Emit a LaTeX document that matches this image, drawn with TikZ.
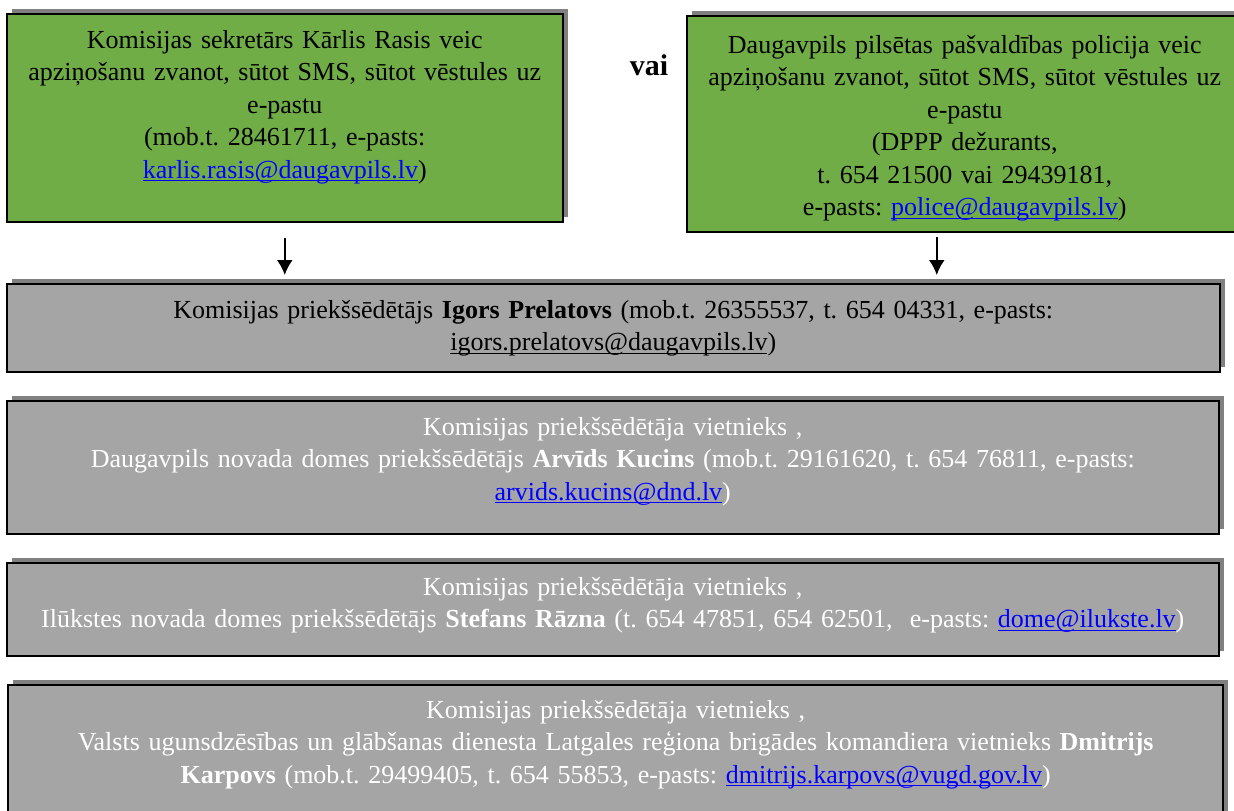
\documentclass[tikz,border=0pt]{standalone}
\usepackage{fontspec}
\setmainfont{Liberation Serif}
\usetikzlibrary{positioning}
\usetikzlibrary{shadows}
\usetikzlibrary{arrows.meta}
\definecolor{box-green}{HTML}{70AD47}
\definecolor{box-gray}{HTML}{A5A5A5}
\definecolor{box-shadow}{HTML}{808080}
\definecolor{mail-blue}{HTML}{0000FF}
\frenchspacing
\newcommand{\ulmail}[1]{\leavevmode\setbox0=\hbox{#1}\rlap{\rule[-1.6pt]{\wd0}{.6pt}}\box0}
\newcommand{\maillink}[1]{\textcolor{mail-blue}{\ulmail{#1}}}
\tikzset{
  panel/.style 2 args={
    draw=black, line width=1pt, fill=#1, text=#2,
    align=center, anchor=north west, inner sep=0pt,
    font=\fontsize{13}{16.25}\selectfont,
    text height=17pt,
    drop shadow={shadow xshift=2.5pt, shadow yshift=2.5pt, fill=box-shadow, opacity=1}},
}

\begin{document}
\begin{tikzpicture}[
  green/.style={panel={box-green}{black}, text width=278.25pt},
  chair/.style={panel={box-gray}{black}, text width=606.75pt},
  deputy/.style={panel={box-gray}{white}, text width=606.25pt},
  flow/.style={line width=1pt, -{Latex[length=7.5pt, width=8pt]}}
]
\useasboundingbox (0,0) rectangle (617pt,-405pt);

% Notification
\node[green, text depth=87pt] (sek) at (2.75pt,-6.5pt) {%
Komisijas sekretārs Kārlis Rasis veic\\
apziņošanu zvanot, sūtot SMS, sūtot vēstules uz\\
e-pastu\\
(mob.t. 28461711, e-pasts:\\
\maillink{karlis.rasis@daugavpils.lv})};
\node[font=\fontsize{15}{18}\selectfont\bfseries] (vai) at (324.5pt,-32.5pt) {vai};
\node[green, text height=18.5pt, text depth=89.5pt] (pol) at (342.75pt,-7.5pt) {%
Daugavpils pilsētas pašvaldības policija veic\\
apziņošanu zvanot, sūtot SMS, sūtot vēstules uz\\
e-pastu\\
(DPPP dežurants,\\
t. 654 21500 vai 29439181,\\
e-pasts: \maillink{police@daugavpils.lv})};

% Chairman
\node[chair, text depth=27pt] (pr) at (2.75pt,-141.5pt) {%
Komisijas priekšsēdētājs \textbf{Igors Prelatovs} (mob.t. 26355537, t. 654 04331, e-pasts:\\
\ulmail{igors.prelatovs@daugavpils.lv})};

% Deputies
\node[deputy, text depth=49.5pt, below=13.5pt of pr.south west, anchor=north west] (vk1) {%
Komisijas priekšsēdētāja vietnieks ,\\
Daugavpils novada domes priekšsēdētājs \textbf{Arvīds Kucins} (mob.t. 29161620, t. 654 76811, e-pasts:\\
\maillink{arvids.kucins@dnd.lv})};
\node[deputy, text height=16pt, text depth=30.5pt, below=13.5pt of vk1.south west, anchor=north west] (vk2) {%
Komisijas priekšsēdētāja vietnieks ,\\
Ilūkstes novada domes priekšsēdētājs \textbf{Stefans Rāzna} (t. 654 47851, 654 62501,\ \ e-pasts: \maillink{dome@ilukste.lv})};
\node[deputy, text width=607.35pt, text height=16.5pt, text depth=50pt, below=13.5pt of vk2.south west, anchor=north west, xshift=.9pt] (vk3) {%
Komisijas priekšsēdētāja vietnieks ,\\
Valsts ugunsdzēsības un glābšanas dienesta Latgales reģiona brigādes komandiera vietnieks \textbf{Dmitrijs}\\
\textbf{Karpovs} (mob.t. 29499405, t. 654 55853, e-pasts: \maillink{dmitrijs.karpovs@vugd.gov.lv})};

% Edges
\coordinate (polout) at ([xshift=-14pt]pol.south);
\draw[flow, shorten <=7.5pt, shorten >=4pt] (sek.south) -- (sek.south |- pr.north);
\draw[flow, shorten <=2pt, shorten >=4pt] (polout) -- (polout |- pr.north);
\end{tikzpicture}
\end{document}
